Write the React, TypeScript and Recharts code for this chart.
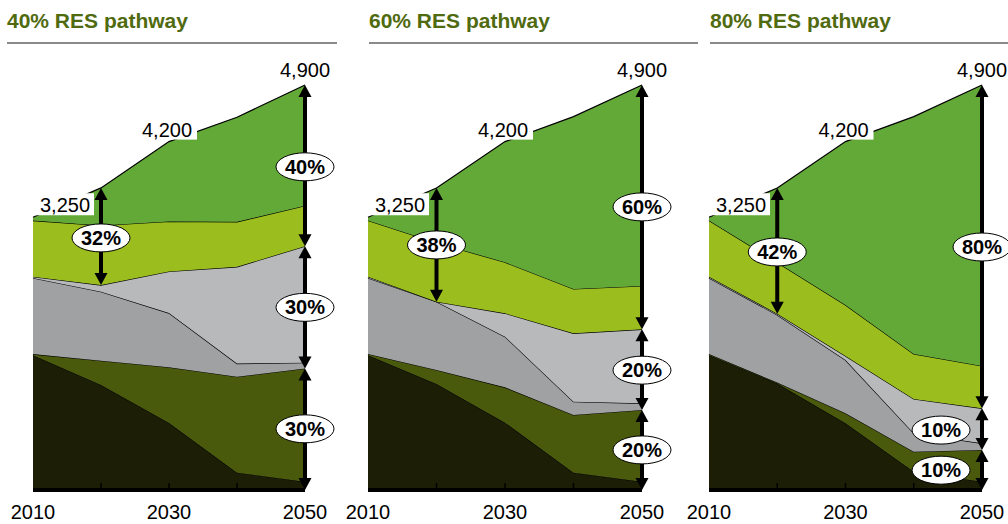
import { Area, AreaChart, ReferenceDot, ReferenceLine, XAxis, YAxis } from "recharts";

const years = [2010, 2020, 2030, 2040, 2050];
const labelYears = [2010, 2030, 2050];
const tickMarkYears = [2020, 2030, 2040];

// stacked bottom -> top
const seriesKeys = ["nuclearOld", "nuclearNew", "fossilOld", "fossilNew", "resOld", "resNew"];
const seriesColors = ["#1c1f06", "#4a5a0c", "#a0a1a3", "#b8b9bb", "#9bbd1d", "#63a937"];

// 40% RES pathway
const nuclearOld40 = [1630, 1270, 810, 210, 100];
const nuclearNew40 = [15, 295, 675, 1160, 1370];
const fossilOld40 = [920, 835, 655, 160, 70];
const fossilNew40 = [15, 80, 505, 1170, 1410];
const resOld40 = [680, 720, 605, 545, 490];
const resNew40 = [40, 455, 965, 1265, 1460];

// 60% RES pathway
const nuclearOld60 = [1630, 1283, 815, 210, 100];
const nuclearNew60 = [15, 169, 427, 698, 868];
const fossilOld60 = [920, 827, 613, 161, 81];
const fossilNew60 = [15, 0, 283, 827, 895];
const resOld60 = [680, 713, 617, 536, 524];
const resNew60 = [40, 662, 1460, 2085, 2432];

// 80% RES pathway
const nuclearOld80 = [1630, 1290, 807, 222, 100];
const nuclearNew80 = [15, 10, 121, 242, 384];
const fossilOld80 = [920, 818, 645, 222, 81];
const fossilNew80 = [15, 15, 48, 415, 423];
const resOld80 = [680, 620, 618, 545, 512];
const resNew80 = [40, 901, 1976, 2871, 3400];

const totalYears = [2010, 2030, 2050];
const totalLabels = ["3,250", "4,200", "4,900"];

const badges40 = [
  { year: 2020, value: 3050, text: "32%" },
  { year: 2050, value: 3910, text: "40%" },
  { year: 2050, value: 2210, text: "30%" },
  { year: 2050, value: 740, text: "30%" },
];
const badges60 = [
  { year: 2020, value: 2965, text: "38%" },
  { year: 2050, value: 3425, text: "60%" },
  { year: 2050, value: 1450, text: "20%" },
  { year: 2050, value: 485, text: "20%" },
];
const badges80 = [
  { year: 2020, value: 2880, text: "42%" },
  { year: 2050, value: 2940, text: "80%" },
  { year: 2044, value: 725, text: "10%" },
  { year: 2044, value: 240, text: "10%" },
];

const FONT = "'Liberation Sans', Arial, sans-serif";
const TITLE_COLOR = "#506a10";

function buildRows(layers: number[][]) {
  return years.map((year, i) => {
    const row: Record<string, number> = { year };
    seriesKeys.forEach((k, j) => (row[k] = layers[j][i]));
    return row;
  });
}

const panels = [
  {
    title: "40% RES pathway",
    rows: buildRows([nuclearOld40, nuclearNew40, fossilOld40, fossilNew40, resOld40, resNew40]),
    badges: badges40,
    left: 0, width: 340, mLeft: 33, mRight: 35, titleX: 7, lineX2: 337,
  },
  {
    title: "60% RES pathway",
    rows: buildRows([nuclearOld60, nuclearNew60, fossilOld60, fossilNew60, resOld60, resNew60]),
    badges: badges60,
    left: 340, width: 340, mLeft: 28, mRight: 38, titleX: 369, lineX2: 698,
  },
  {
    title: "80% RES pathway",
    rows: buildRows([nuclearOld80, nuclearNew80, fossilOld80, fossilNew80, resOld80, resNew80]),
    badges: badges80,
    left: 680, width: 328, mLeft: 29, mRight: 26, titleX: 710, lineX2: 1008,
  },
];

const labelLayout = [
  { dx: 32, dy: -5, box: [2, -24, 59, 22] },
  { dx: -2, dy: -5, box: [-30, -24, 58, 22] },
  { dx: 0, dy: -8, box: null },
];

function cumulative(row: Record<string, number>, n: number) {
  let s = 0;
  for (let i = 0; i < n; i++) s += row[seriesKeys[i]];
  return s;
}

function ArrowShape(p: any) {
  const { x1, y1, y2 } = p;
  const top = Math.min(y1, y2);
  const bot = Math.max(y1, y2);
  const h = 12;
  const w = 6.5;
  return (
    <g>
      <line x1={x1} x2={x1} y1={top + h - 1} y2={bot - h + 1} stroke="#000" strokeWidth={4} />
      <polygon points={`${x1},${top} ${x1 - w},${top + h} ${x1 + w},${top + h}`} fill="#000" />
      <polygon points={`${x1},${bot} ${x1 - w},${bot - h} ${x1 + w},${bot - h}`} fill="#000" />
    </g>
  );
}

function YearTick(p: any) {
  const { x, y, payload } = p;
  const v = payload.value;
  return (
    <g>
      {tickMarkYears.includes(v) && (
        <line x1={x} x2={x} y1={y} y2={y - 7} stroke="#000" strokeWidth={1.5} />
      )}
      {labelYears.includes(v) && (
        <text x={x} y={y + 29} textAnchor="middle" fontSize={20} fontFamily={FONT} fill="#000">
          {v}
        </text>
      )}
    </g>
  );
}

function Panel({ panel }: { panel: (typeof panels)[number] }) {
  const rows = panel.rows;
  const r2020 = rows[1];
  const r2050 = rows[4];
  const arrows = [
    [2020, cumulative(r2020, 6), cumulative(r2020, 4)],
    [2050, cumulative(r2050, 6), cumulative(r2050, 4)],
    [2050, cumulative(r2050, 4), cumulative(r2050, 2)],
    [2050, cumulative(r2050, 2), 0],
  ];
  return (
    <div style={{ position: "absolute", left: panel.left, top: 0 }}>
      <AreaChart
        width={panel.width}
        height={524}
        data={rows}
        margin={{ top: 85, bottom: 0, left: panel.mLeft, right: panel.mRight }}
      >
        <XAxis
          dataKey="year"
          type="number"
          domain={[2010, 2050]}
          ticks={years}
          interval={0}
          height={34}
          tickSize={0}
          tickMargin={0}
          tickLine={false}
          tick={<YearTick />}
          axisLine={{ stroke: "#000", strokeWidth: 4 }}
        />
        <YAxis
          type="number"
          domain={[0, 4900]}
          width={0}
          tick={false}
          tickLine={false}
          axisLine={{ stroke: "#000", strokeWidth: 4 }}
        />
        {seriesKeys.map((k, i) => (
          <Area
            key={k}
            type="linear"
            dataKey={k}
            stackId="a"
            fill={seriesColors[i]}
            fillOpacity={1}
            stroke="#000"
            strokeWidth={1.2}
            dot={false}
            activeDot={false}
            isAnimationActive={false}
          />
        ))}
        {totalYears.map((yr, i) => {
          const lay = labelLayout[i];
          const total = cumulative(rows[years.indexOf(yr)], 6);
          return (
            <ReferenceDot
              key={"t" + i}
              x={yr}
              y={total}
              r={0}
              ifOverflow="visible"
              shape={(p: any) => (
                <g>
                  {lay.box && (
                    <rect
                      x={p.cx + lay.box[0]}
                      y={p.cy + lay.box[1]}
                      width={lay.box[2]}
                      height={lay.box[3]}
                      fill="#fff"
                    />
                  )}
                  <text
                    x={p.cx + lay.dx}
                    y={p.cy + lay.dy}
                    textAnchor="middle"
                    fontSize={20}
                    fontFamily={FONT}
                    fill="#000"
                  >
                    {totalLabels[i]}
                  </text>
                </g>
              )}
            />
          );
        })}
        {arrows.map(([x, a, b], i) => (
          <ReferenceLine
            key={"a" + i}
            segment={[
              { x, y: a },
              { x, y: b },
            ]}
            ifOverflow="visible"
            shape={<ArrowShape />}
          />
        ))}
        {panel.badges.map((b, i) => (
          <ReferenceDot
            key={"b" + i}
            x={b.year}
            y={b.value}
            r={0}
            ifOverflow="visible"
            shape={(p: any) => (
              <g>
                <ellipse cx={p.cx} cy={p.cy} rx={29} ry={14} fill="#fff" stroke="#000" strokeWidth={1} />
                <text
                  x={p.cx}
                  y={p.cy + 7}
                  textAnchor="middle"
                  fontSize={20}
                  fontWeight="bold"
                  fontFamily={FONT}
                  fill="#000"
                >
                  {b.text}
                </text>
              </g>
            )}
          />
        ))}
      </AreaChart>
    </div>
  );
}

export default function App() {
  return (
    <div
      style={{
        position: "absolute",
        left: 0,
        top: 0,
        width: 1008,
        height: 524,
        background: "#fff",
        fontFamily: FONT,
        overflow: "hidden",
      }}
    >
      {panels.map((p) => (
        <div key={p.title}>
          <div
            style={{
              position: "absolute",
              left: p.titleX,
              top: 7,
              fontSize: 21,
              fontWeight: "bold",
              color: TITLE_COLOR,
              whiteSpace: "nowrap",
              lineHeight: "28px",
            }}
          >
            {p.title}
          </div>
          <div
            style={{
              position: "absolute",
              left: p.titleX,
              top: 42,
              width: p.lineX2 - p.titleX,
              height: 2,
              background: "#8a8a8a",
            }}
          />
        </div>
      ))}
      {panels.map((p) => (
        <Panel key={"c" + p.title} panel={p} />
      ))}
    </div>
  );
}
